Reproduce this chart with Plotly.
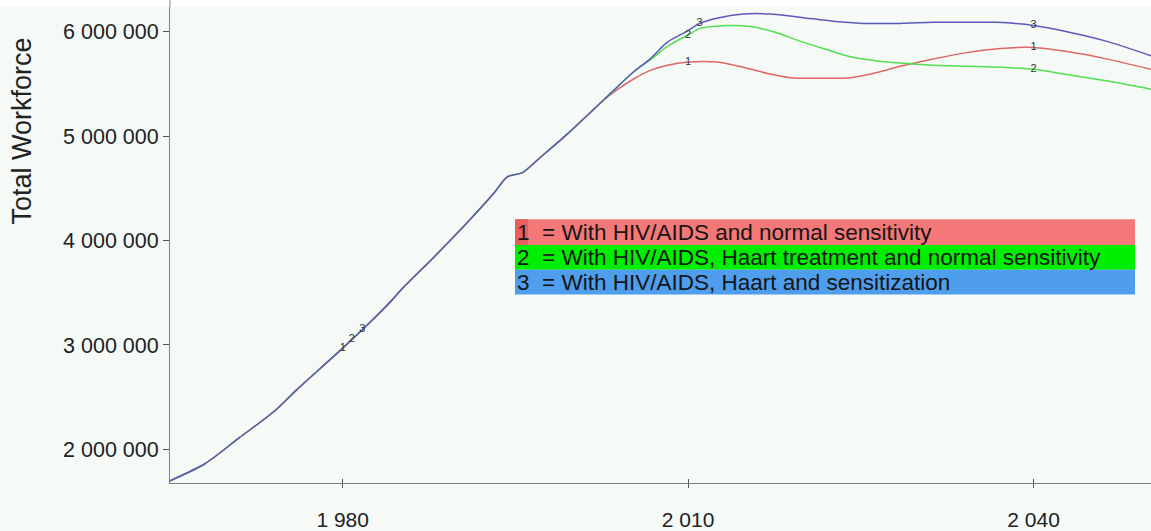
import numpy as np
import plotly.graph_objects as go

# ---------------- data (values in millions of workers) ----------------
years_common = [1965, 1968, 1971, 1974, 1976, 1978, 1980, 1982.4, 1984.2, 1985,
                1988, 1990.8, 1993.1, 1994.3, 1995.6, 1997.2, 1999.5, 2002.5]
wf_common = [1.70, 1.86, 2.11, 2.36, 2.57, 2.77, 2.97, 3.22, 3.42, 3.52,
             3.85, 4.17, 4.45, 4.61, 4.65, 4.80, 5.02, 5.33]

years_s1 = [2003.9, 2005.3, 2006.7, 2008.2, 2010, 2012.5, 2014.8, 2016.9, 2018.9,
            2021.5, 2024.1, 2026.4, 2028.4, 2031.3, 2034.2, 2037.1, 2040, 2042.9,
            2046.3, 2050.2]
wf_s1 = [5.45, 5.55, 5.63, 5.68, 5.71, 5.71, 5.66, 5.60, 5.56,
         5.555, 5.56, 5.61, 5.67, 5.74, 5.80, 5.84, 5.85, 5.81,
         5.74, 5.64]

years_s2 = [2005.2, 2006.7, 2008.2, 2010, 2011, 2013.4, 2015.4, 2017.7, 2019.7,
            2022, 2024.1, 2026.4, 2028.4, 2031.3, 2034.2, 2037.1, 2040, 2042.9,
            2046.3, 2050.2]
wf_s2 = [5.61, 5.73, 5.86, 5.97, 6.03, 6.06, 6.05, 5.99, 5.91,
         5.83, 5.76, 5.72, 5.70, 5.68, 5.67, 5.66, 5.64, 5.59,
         5.53, 5.45]

years_s3 = [2005.2, 2006.7, 2008.2, 2010, 2011, 2012.5, 2014.8, 2017.1, 2019.7,
            2022.6, 2025.2, 2028.4, 2031.3, 2034.2, 2036.8, 2040, 2042.9, 2046.3,
            2050.2]
wf_s3 = [5.61, 5.74, 5.90, 6.01, 6.08, 6.13, 6.17, 6.17, 6.14,
         6.10, 6.08, 6.08, 6.09, 6.09, 6.09, 6.06, 6.00, 5.91,
         5.77]

series_names = ["With HIV/AIDS and normal sensitivity",
                "With HIV/AIDS, Haart treatment and normal sensitivity",
                "With HIV/AIDS, Haart and sensitization"]
series_ids = ["1", "2", "3"]
label_years = [[1980, 2010, 2040], [1980.8, 2010, 2040], [1981.7, 2011, 2040]]

line_colors = ["#E06666", "#4FDF4F", "#5A5ABA"]
box_colors = ["#F47878", "#00EE00", "#4F9DED"]

y_ticks = [2e6, 3e6, 4e6, 5e6, 6e6]
x_ticks = [1980, 2010, 2040]

# ---------------- figure ----------------
W, H = 1151, 531
ML, MR, MT, MB = 170, 0, 7, 42
PH = H - MT - MB
PW = W - ML - MR

fig = go.Figure()

tails = [(years_s1, wf_s1), (years_s2, wf_s2), (years_s3, wf_s3)]
for i, (ty, tv) in enumerate(tails):
    xs = np.array(years_common + ty)
    ys = np.array(wf_common + tv) * 1e6
    fig.add_trace(go.Scatter(x=xs, y=ys, mode="lines", name=series_names[i],
                             line=dict(color=line_colors[i], width=1.5,
                                       shape="spline", smoothing=0.8),
                             hoverinfo="skip", showlegend=False))
for i, (ty, tv) in enumerate(tails):
    xs = np.array(years_common + ty)
    ys = np.array(wf_common + tv) * 1e6
    lx = np.array(label_years[i])
    ly = np.interp(lx, xs, ys)
    fig.add_trace(go.Scatter(x=lx, y=ly, mode="text", text=[series_ids[i]] * len(lx),
                             textposition="middle center",
                             textfont=dict(size=11, color="#333333",
                                           family="Liberation Sans, Arial"),
                             hoverinfo="skip", showlegend=False))

# invisible trace on the overlay axis so the inside ticks render
fig.add_trace(go.Scatter(x=[x_ticks[0]], y=[y_ticks[0]], xaxis="x2", mode="markers",
                         marker=dict(opacity=0), hoverinfo="skip", showlegend=False))

def py(pix):
    return (H - MB - pix) / PH

def px(pix):
    return (pix - ML) / PW

shapes = []
# white strip above the plot
shapes.append(dict(type="rect", xref="paper", yref="paper", x0=-0.2, x1=1.01,
                   y0=1, y1=1 + (MT + 2) / PH, fillcolor="white",
                   line=dict(width=0), layer="below"))
shapes.append(dict(type="line", xref="paper", yref="paper", x0=0, x1=0,
                   y0=1, y1=1 + MT / PH, line=dict(color="#808080", width=1)))

# legend block
rows = [(222, 248), (248, 273), (273, 298)]
annotations = []
for i, (t, b) in enumerate(rows):
    shapes.append(dict(type="rect", xref="paper", yref="paper",
                       x0=px(515), x1=px(1135), y0=py(b), y1=py(t),
                       fillcolor=box_colors[i], line=dict(width=0)))
    annotations.append(dict(xref="paper", yref="paper", x=px(515), y=py((t + b) / 2),
                            xanchor="left", yanchor="middle", showarrow=False,
                            text=series_ids[i] + "\u00a0\u00a0= " + series_names[i],
                            font=dict(size=22.5, color="#151515",
                                      family="Liberation Sans, Arial")))
shapes.append(dict(type="rect", xref="paper", yref="paper",
                   x0=px(515), x1=px(528), y0=py(248), y1=py(222),
                   fillcolor="#E85E5E", line=dict(width=0)))

annotations.append(dict(xref="paper", yref="paper", x=px(22), y=py(133),
                        xanchor="center", yanchor="middle", showarrow=False,
                        text="Total Workforce", textangle=-90,
                        font=dict(size=27, color="#222222",
                                  family="Liberation Sans, Arial")))

bg = "#F5FAF7"
fig.update_layout(
    width=W, height=H,
    margin=dict(l=ML, r=MR, t=MT, b=MB, pad=0),
    paper_bgcolor=bg, plot_bgcolor=bg,
    separators=". ",
    showlegend=False,
    shapes=shapes,
    annotations=annotations,
    xaxis=dict(range=[1965, 2050.2], tickvals=x_ticks, tickformat=",d",
               showgrid=False, zeroline=False, showline=True, linecolor="#808080",
               linewidth=1, ticks="outside", ticklen=4, tickcolor="#555555",
               ticklabelstandoff=14,
               tickfont=dict(size=21, color="#222222", family="Liberation Sans, Arial")),
    xaxis2=dict(overlaying="x", matches="x", side="bottom", tickvals=x_ticks,
                showticklabels=False, showgrid=False, zeroline=False, showline=False,
                ticks="inside", ticklen=4, tickcolor="#555555"),
    yaxis=dict(range=[1.678e6, 6.237e6], tickvals=y_ticks, tickformat=",d",
               showgrid=False, zeroline=False, showline=True, linecolor="#808080",
               linewidth=1, ticks="outside", ticklen=6, tickcolor="#555555",
               ticklabelstandoff=0,
               tickfont=dict(size=21.5, color="#222222", family="Liberation Sans, Arial")),
)

fig.write_html("out.html", config={"displayModeBar": False},
               post_script="document.body.style.margin='0';document.body.style.overflow='hidden';")
